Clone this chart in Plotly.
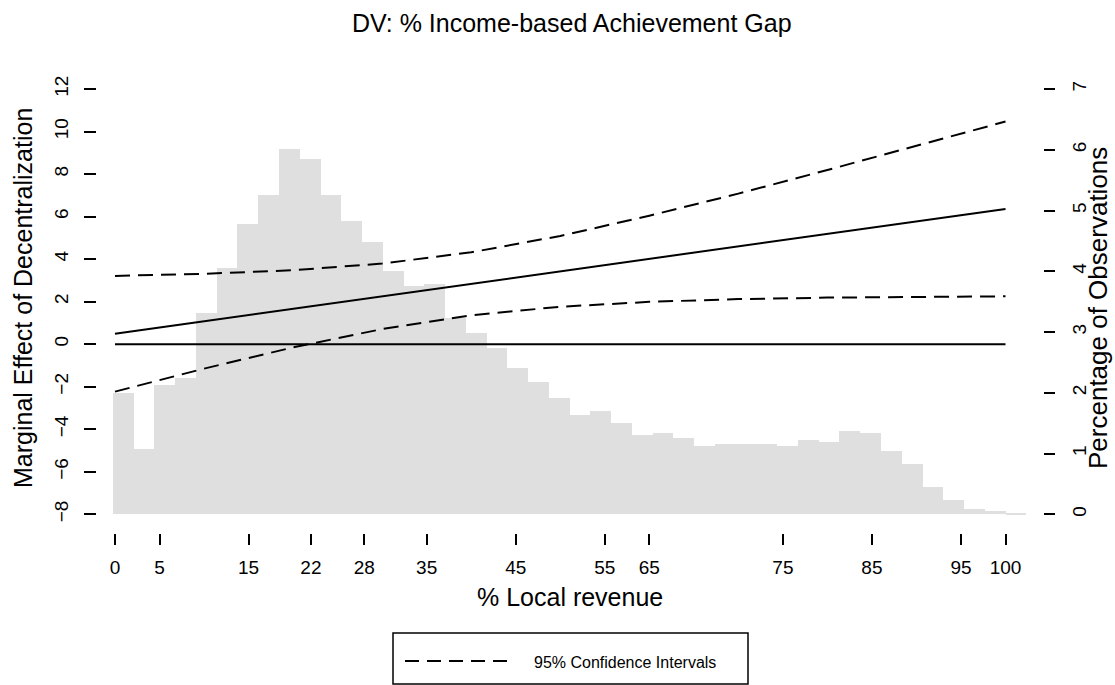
import plotly.graph_objects as go

# ---- data -------------------------------------------------------------
# Histogram of % local revenue (percentage of observations per bin)
bin_start = -0.23
bin_width = 2.331
obs_pct = [1.99, 1.08, 2.13, 2.25, 3.32, 4.05, 4.77, 5.26, 6.02, 5.84,
           5.26, 4.83, 4.49, 4.01, 3.75, 3.79, 3.23, 2.98, 2.73, 2.40,
           2.17, 1.92, 1.63, 1.70, 1.51, 1.30, 1.34, 1.26, 1.12, 1.15,
           1.15, 1.15, 1.12, 1.22, 1.19, 1.37, 1.33, 1.04, 0.82, 0.45,
           0.24, 0.09, 0.05, 0.02]

# Marginal effect of decentralization with 95% confidence bounds
me_x = [0, 10, 20, 30, 40, 50, 60, 70, 80, 90, 100]
me_mid = [0.49, 1.08, 1.66, 2.25, 2.84, 3.43, 4.01, 4.60, 5.19, 5.77, 6.36]
me_upper = [3.21, 3.31, 3.48, 3.79, 4.32, 5.09, 6.04, 7.08, 8.19, 9.32, 10.47]
me_lower = [-2.23, -1.15, -0.15, 0.71, 1.36, 1.76, 1.99, 2.12, 2.19, 2.23, 2.25]

zero_x = [0, 100]
zero_y = [0, 0]

x_tickvals = [0, 5, 15, 22, 28, 35, 45, 55, 60, 75, 85, 95, 100]
x_ticktext = ["0", "5", "15", "22", "28", "35", "45", "55", "65", "75", "85", "95", "100"]
left_ticks = [-8, -6, -4, -2, 0, 2, 4, 6, 8, 10, 12]
right_ticks = [0, 1, 2, 3, 4, 5, 6, 7]

# ---- figure -----------------------------------------------------------
FONT = "Liberation Sans, Arial, sans-serif"
W, H = 1115, 685
ML, MR, MT, MB = 97, 72, 70, 152
PW, PH = W - ML - MR, H - MT - MB

def px_x(p):
    return (p - ML) / PW

def px_y(p):
    return (H - MB - p) / PH

centers = [bin_start + bin_width * (i + 0.5) for i in range(len(obs_pct))]

fig = go.Figure()

fig.add_trace(go.Bar(
    x=centers, y=obs_pct, width=bin_width,
    marker=dict(color="#dfdfdf", line=dict(width=0)),
    yaxis="y", showlegend=False, hoverinfo="skip",
))

line_style = dict(color="black", width=2)
fig.add_trace(go.Scatter(x=zero_x, y=zero_y, mode="lines", yaxis="y2",
                         line=line_style, showlegend=False))
fig.add_trace(go.Scatter(x=me_x, y=me_mid, mode="lines", yaxis="y2",
                         line=line_style, showlegend=False))
dash_style = dict(color="black", width=2, dash="15px,8px")
fig.add_trace(go.Scatter(x=me_x, y=me_upper, mode="lines", yaxis="y2",
                         line=dash_style, name="95% Confidence Intervals",
                         showlegend=False))
fig.add_trace(go.Scatter(x=me_x, y=me_lower, mode="lines", yaxis="y2",
                         line=dash_style, showlegend=False))

tick_font = dict(family=FONT, size=19, color="black")

fig.update_layout(
    width=W, height=H,
    margin=dict(l=ML, r=MR, t=MT, b=MB),
    paper_bgcolor="white", plot_bgcolor="white",
    bargap=0,
    font=dict(family=FONT, color="black"),
    xaxis=dict(
        range=[-2.02, 104.21], tickmode="array",
        tickvals=x_tickvals, ticktext=x_ticktext,
        ticks="outside", ticklen=11, tickwidth=1.5, tickcolor="black",
        showgrid=False, zeroline=False, showline=False,
        tickfont=tick_font, ticklabelstandoff=6,
    ),
    yaxis=dict(
        side="right", range=[-0.3078, 7.3127],
        tickmode="array", tickvals=right_ticks,
        ticks="outside", ticklen=11, tickwidth=1.5, tickcolor="black",
        showgrid=False, zeroline=False, showline=False,
        tickfont=tick_font, tickangle=-90, ticklabelstandoff=8,
    ),
    yaxis2=dict(
        side="left", overlaying="y", range=[-8.879, 12.893],
        tickmode="array", tickvals=left_ticks,
        ticks="outside", ticklen=12, tickwidth=1.5, tickcolor="black",
        showgrid=False, zeroline=False, showline=False,
        tickfont=tick_font, tickangle=-90, ticklabelstandoff=8,
    ),
)

annotations = [
    dict(text="DV: % Income-based Achievement Gap", x=px_x(572), y=px_y(23),
         font=dict(size=25)),
    dict(text="% Local revenue", x=px_x(570), y=px_y(597), font=dict(size=25)),
    dict(text="Marginal Effect of Decentralization", x=px_x(23), y=px_y(298),
         textangle=-90, font=dict(size=25)),
    dict(text="Percentage of Observations", x=px_x(1098), y=px_y(308),
         textangle=-90, font=dict(size=26)),
    dict(text="95% Confidence Intervals", x=px_x(532), y=px_y(662),
         xanchor="left", font=dict(size=16)),
]
for a in annotations:
    a.setdefault("xanchor", "center")
    a.update(xref="paper", yref="paper", yanchor="middle", showarrow=False)
    a["font"] = dict(family=FONT, color="black", **a["font"])
fig.update_layout(annotations=annotations)

# Legend box with a dashed sample line
fig.add_shape(type="rect", xref="paper", yref="paper",
              x0=px_x(393), x1=px_x(748), y0=px_y(684), y1=px_y(633),
              line=dict(color="black", width=1.5), fillcolor="rgba(0,0,0,0)")
fig.add_shape(type="line", xref="paper", yref="paper",
              x0=px_x(405), x1=px_x(512), y0=px_y(661), y1=px_y(661),
              line=dict(color="black", width=2, dash="14px,8px"))

fig.write_html("out.html")
